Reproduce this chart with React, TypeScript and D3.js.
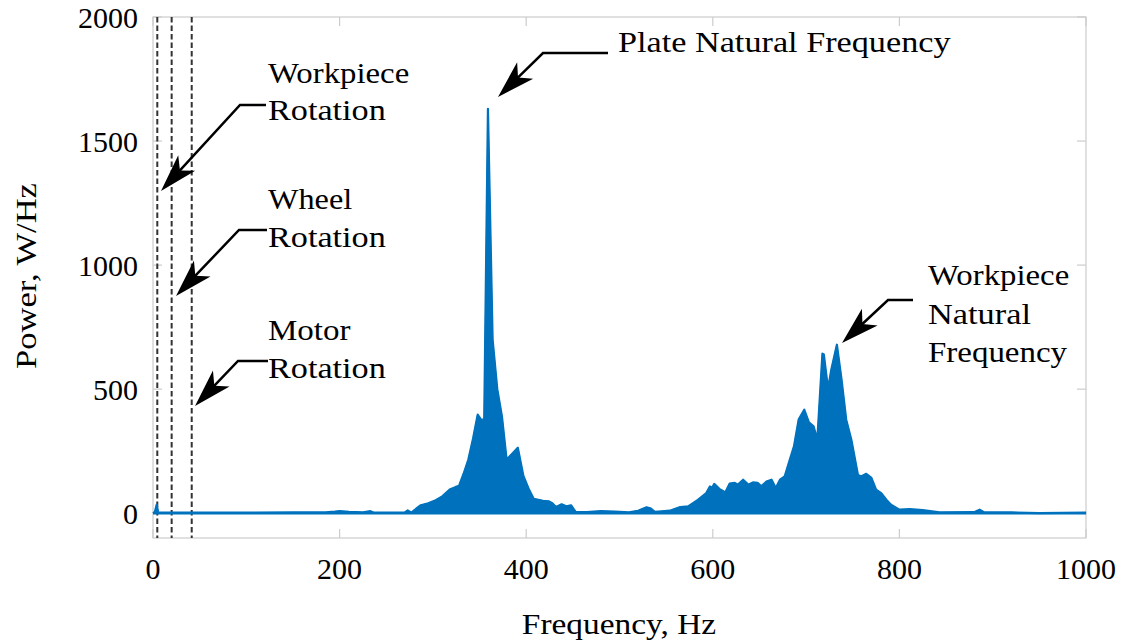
import React from "react";
import * as d3 from "d3";

// Spectrum (frequency in Hz, power in W/Hz)
const frequency = [
  0, 2, 4, 5.5, 10, 50, 100, 150, 185, 195, 200, 210, 225, 230, 233, 237, 260, 270,
  273, 277, 282, 287, 295, 303, 310, 318, 324, 328, 333, 338, 343, 348, 352, 355,
  359, 364, 369, 374, 379, 385, 391, 397, 403, 408, 418, 424, 428, 432, 438, 443,
  448, 453, 465, 480, 495, 510, 520, 529, 533, 538, 545, 554, 565, 574, 584, 593,
  597, 599, 601.5, 607, 613.5, 618, 623.5, 627, 632.5, 638, 643, 648, 652, 657.5,
  663, 667.5, 672, 677, 682, 687, 692, 698, 703, 708, 712, 717.5, 719, 723.5, 727,
  733, 738, 743, 748.5, 755.5, 759, 764.5, 770, 775, 780.5, 786, 791, 800, 811, 825,
  843, 880, 886, 891, 920, 950, 1000,
];
const power = [
  0, 5, 35, 3, 2, 2, 2, 3, 3, 6, 8, 5, 3, 6, 8, 2, 2, 3,
  11, 2, 18, 32, 40, 52, 68, 95, 105, 110, 160, 216, 300, 397, 375, 380,
  1630, 700, 500, 390, 216, 240, 264, 150, 95, 58, 50, 48, 40, 25, 36, 28,
  32, 5, 4, 8, 6, 3, 10, 24, 20, 5, 7, 10, 25, 28, 54, 81,
  108, 100, 118, 98, 84, 119, 122, 115, 135, 115, 124, 122, 108, 128,
  135, 102, 135, 148, 209, 269, 377, 417, 366, 350, 296, 643, 640, 501, 578,
  679, 538, 377, 296, 155, 148, 159, 142, 95, 81, 54, 34, 14, 16, 12,
  3, 4, 14, 3, 3, 0, 2,
];

const xTicks = [0, 200, 400, 600, 800, 1000];
const yTicks = [0, 500, 1000, 1500, 2000];
// Rotation frequencies marked by dashed lines (Hz)
const markerFreqs = [4.6, 20, 41.5];

const xLabel = "Frequency, Hz";
const yLabel = "Power, W/Hz";

// Annotation layout (pixels): text lines, text origin, arrow path
const annotations = [
  { lines: ["Workpiece", "Rotation"], tx: 268, ty: [83, 120], start: [266, 105], corner: [240, 105], tip: [161, 191] },
  { lines: ["Wheel", "Rotation"], tx: 268, ty: [209, 247], start: [267, 230], corner: [239, 230], tip: [176, 296] },
  { lines: ["Motor", "Rotation"], tx: 268, ty: [340, 378], start: [268, 361], corner: [238, 361], tip: [195, 406] },
  { lines: ["Plate Natural Frequency"], tx: 618, ty: [52], start: [608, 53], corner: [543, 53], tip: [498, 97] },
  { lines: ["Workpiece", "Natural", "Frequency"], tx: 928, ty: [285, 324, 362], start: [913, 300], corner: [888, 300], tip: [842, 343] },
];

const FONT = "'Liberation Serif', 'Times New Roman', serif";
const FS = 30;
const BLUE = "#0072BD";
const FRAME = "#cccccc";

// Computer Modern advance widths (em) used to size the serif substitute text
const cmWidth: Record<string, number> = {
  F: 0.653, H: 0.75, M: 0.917, N: 0.75, P: 0.681, R: 0.736, W: 1.028,
  a: 0.5, c: 0.444, e: 0.444, h: 0.556, i: 0.278, k: 0.528, l: 0.278, n: 0.556,
  o: 0.5, p: 0.556, q: 0.528, r: 0.392, t: 0.389, u: 0.556, w: 0.722, y: 0.528, z: 0.444,
  " ": 0.333, ",": 0.278, "/": 0.5,
};
const EM = 30.6;
function textWidth(s: string) {
  let w = 0;
  for (const ch of s) w += cmWidth[ch] ?? 0.5;
  return w * EM;
}

function Label({ x, y, text, anchor = "start", transform }: { x: number; y: number; text: string; anchor?: string; transform?: string }) {
  return (
    <text
      x={x}
      y={y}
      transform={transform}
      textAnchor={anchor}
      fontFamily={FONT}
      fontSize={FS}
      fill="#000"
      textLength={textWidth(text)}
      lengthAdjust="spacingAndGlyphs"
    >
      {text}
    </text>
  );
}

function Arrow({ start, corner, tip }: { start: number[]; corner: number[]; tip: number[] }) {
  const dx = tip[0] - corner[0];
  const dy = tip[1] - corner[1];
  const len = Math.hypot(dx, dy);
  const ux = dx / len, uy = dy / len;
  const nx = -uy, ny = ux;
  const L = 38, Wd = 11.5, N = 28;
  const b1 = [tip[0] - ux * L + nx * Wd, tip[1] - uy * L + ny * Wd];
  const nt = [tip[0] - ux * N, tip[1] - uy * N];
  const b2 = [tip[0] - ux * L - nx * Wd, tip[1] - uy * L - ny * Wd];
  return (
    <g>
      <polyline
        points={`${start[0]},${start[1]} ${corner[0]},${corner[1]} ${nt[0] + ux * 2},${nt[1] + uy * 2}`}
        fill="none"
        stroke="#000"
        strokeWidth={2.5}
        strokeLinejoin="miter"
      />
      <polygon points={`${tip[0]},${tip[1]} ${b1[0]},${b1[1]} ${nt[0]},${nt[1]} ${b2[0]},${b2[1]}`} fill="#000" />
    </g>
  );
}

export default function App() {
  const W = 1127, H = 643;
  const x = d3.scaleLinear().domain([0, 1000]).range([153, 1086]);
  const y = d3.scaleLinear().domain([-100, 2000]).range([538, 17]);
  const pts: [number, number][] = frequency.map((f, i) => [f, power[i]]);
  const area = d3
    .area<[number, number]>()
    .x((d) => x(d[0]))
    .y0(y(0))
    .y1((d) => y(d[1]));
  const line = d3
    .line<[number, number]>()
    .x((d) => x(d[0]))
    .y((d) => y(d[1]));

  const [x0, x1] = x.range();
  const [yb, yt] = y.range();
  const tickLen = 9;

  return (
    <div style={{ position: "absolute", left: 0, top: 0, width: W, height: H, background: "#fff" }}>
      <svg width={W} height={H} viewBox={`0 0 ${W} ${H}`} style={{ display: "block" }}>
        <rect x={0} y={0} width={W} height={H} fill="#fff" />
        {/* frame */}
        <rect x={x0} y={yt} width={x1 - x0} height={yb - yt} fill="none" stroke={FRAME} strokeWidth={1.2} />
        {/* ticks */}
        {xTicks.map((t) => (
          <g key={"xt" + t}>
            <line x1={x(t)} x2={x(t)} y1={yb} y2={yb - tickLen} stroke={FRAME} strokeWidth={1.2} />
            <line x1={x(t)} x2={x(t)} y1={yt} y2={yt + tickLen} stroke={FRAME} strokeWidth={1.2} />
            <text x={x(t)} y={579} textAnchor="middle" fontFamily={FONT} fontSize={FS} fill="#000">
              {t}
            </text>
          </g>
        ))}
        {yTicks.map((t) => (
          <g key={"yt" + t}>
            <line x1={x0} x2={x0 + tickLen} y1={y(t)} y2={y(t)} stroke={FRAME} strokeWidth={1.2} />
            <line x1={x1} x2={x1 - tickLen} y1={y(t)} y2={y(t)} stroke={FRAME} strokeWidth={1.2} />
            <text x={138} y={y(t) + 10.5} textAnchor="end" fontFamily={FONT} fontSize={FS} fill="#000">
              {t}
            </text>
          </g>
        ))}
        {/* dashed rotation markers */}
        {markerFreqs.map((f) => (
          <line
            key={"m" + f}
            x1={x(f)}
            x2={x(f)}
            y1={yt}
            y2={yb}
            stroke="#333333"
            strokeWidth={2}
            strokeDasharray="5.5,3"
          />
        ))}
        {/* spectrum */}
        <path d={area(pts) || ""} fill={BLUE} stroke={BLUE} strokeWidth={1} />
        <path d={line(pts) || ""} fill="none" stroke={BLUE} strokeWidth={2.2} strokeLinejoin="round" />
        <line x1={x(0)} x2={x(1000)} y1={y(0)} y2={y(0)} stroke={BLUE} strokeWidth={2.5} />
        {/* annotations */}
        {annotations.map((a, i) => (
          <g key={"a" + i}>
            <Arrow start={a.start} corner={a.corner} tip={a.tip} />
            {a.lines.map((ln, j) => (
              <Label key={j} x={a.tx} y={a.ty[j]} text={ln} />
            ))}
          </g>
        ))}
        {/* axis labels */}
        <Label x={619} y={634} text={xLabel} anchor="middle" />
        <Label x={0} y={0} text={yLabel} anchor="middle" transform="translate(36,276) rotate(-90)" />
      </svg>
    </div>
  );
}
